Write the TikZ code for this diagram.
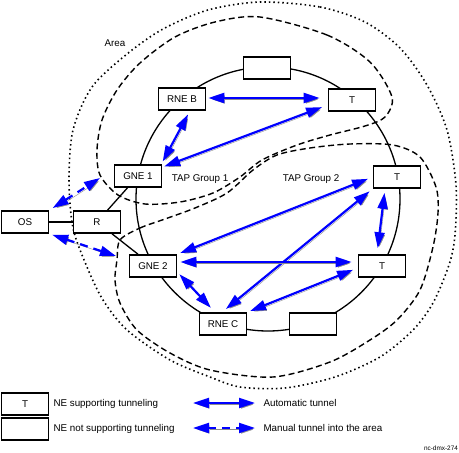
\documentclass[tikz,border=0pt]{standalone}
\usepackage{fontspec}
\setmainfont{Liberation Sans}
\usetikzlibrary{arrows.meta}
\tikzset{
  ne/.style={draw, line width=1.6pt, fill=white, minimum width=47pt, minimum height=22pt, inner sep=0pt},
  tunnel/.style={draw=blue, line width=2.2pt, {Triangle[length=16pt,width=10pt]}-{Triangle[length=16pt,width=10pt]},
    preaction={draw=black!45, transform canvas={shift={(1.3pt,-1.5pt)}}}},
  manual/.style={tunnel, dash pattern=on 8pt off 6pt},
  group/.style={line width=1.4pt, dash pattern=on 6pt off 3.5pt},
  area/.style={line width=1.6pt, dash pattern=on 1.5pt off 3pt}
}
\begin{document}
\begin{tikzpicture}[x=1pt, y=-1pt, font=\fontsize{9.8}{11}\selectfont]
                \useasboundingbox (0,0) rectangle (459,453);
                % area and TAP groups
                \draw[area] plot[smooth cycle] coordinates {(260,2) (320,7) (365,22) (400,48) (427,85) (447,130) (456,185) (455,235) (449,265) (433,303) (413,330) (380,357) (335,377) (285,388) (240,387) (210,377) (170,360) (127,330) (103,300) (87,267) (73,228) (69,180) (73,130) (92,87) (127,54) (163,29) (208,10)};
                \draw[group] plot[smooth cycle] coordinates {(260,17) (327,35) (370,62) (392,97) (385,117) (365,126) (330,135) (297,145) (262,160) (240,177) (213,193) (180,202) (145,204) (118,195) (100,175) (97,150) (102,120) (117,90) (140,63) (175,37) (215,22)};
                \draw[group] plot[smooth cycle] coordinates {(120,240) (140,228) (165,219) (195,208) (227,193) (253,170) (277,155) (310,148) (350,144) (393,145) (420,157) (436,187) (438,213) (433,247) (420,290) (397,320) (370,340) (330,362) (273,377) (210,370) (170,353) (137,330) (120,303) (115,280) (117,260)};
                \draw[line width=1.3pt] (268,199) circle[radius=132pt];
                % network elements
                \node[ne] (1) at (182,99) {RNE B};
                \node[ne] (2) at (267,68) {};
                \node[ne] (3) at (352,100) {T};
                \node[ne] (4) at (397,177) {T};
                \node[ne] (5) at (138,176) {GNE 1};
                \node[ne] (6) at (25,222) {OS};
                \node[ne] (7) at (97,222) {R};
                \node[ne] (8) at (153,266) {GNE 2};
                \node[ne] (9) at (382,266) {T};
                \node[ne] (10) at (223,324) {RNE C};
                \node[ne] (11) at (313,324) {};
                \draw[line width=1.3pt] (6) to (7);
                \draw[line width=1.3pt] (7) to (5);
                \draw[line width=1.3pt] (7) to (8);
                \node (12) at (115,43) {Area};
                \node (13) at (200,179) {TAP Group 1};
                \node (14) at (311,179) {TAP Group 2};
                % automatic tunnels
                \draw[tunnel, shorten <=2pt, shorten >=8pt] ([yshift=1pt]1.east) to ([yshift=2pt]3.west);
                \draw[tunnel, shorten <=4pt, shorten >=3pt] ([xshift=8pt]1.south) to ([xshift=-1pt]5.north east);
                \draw[tunnel, shorten <=2pt, shorten >=6pt] ([yshift=-3pt]5.north east) to ([yshift=-5pt]3.west);
                \draw[tunnel, shorten <=3pt, shorten >=5pt] (8.north east) to (4.west);
                \draw[tunnel, shorten <=5pt, shorten >=4pt] ([xshift=-1pt]10.north) to (4.south west);
                \draw[tunnel, shorten <=3pt, shorten >=6pt] ([yshift=4pt]8.east) to ([yshift=4pt]9.west);
                \draw[tunnel, shorten <=3pt, shorten >=6pt] ([yshift=-6pt]8.east) to ([xshift=-8pt]10.north);
                \draw[tunnel, shorten <=3pt, shorten >=5pt] (10.north east) to ([yshift=-2pt]9.west);
                \draw[tunnel, shorten <=4pt, shorten >=6pt] ([xshift=-12pt]4.south) to ([xshift=-5pt]9.north);
                % manual tunnels
                \coordinate (15) at (100,178);
                \coordinate (16) at (116,256);
                \draw[manual, shorten <=4pt] (6.north east) to (15);
                \draw[manual, shorten <=3pt] (6.south east) to (16);
                % legend
                \node[ne] (17) at (25,404) {T};
                \node[ne] (18) at (25,429) {};
                \node[anchor=west] (19) at (50,404) {NE supporting tunneling};
                \node[anchor=west] (20) at (50,429) {NE not supporting tunneling};
                \coordinate (21) at (193,403);
                \coordinate (22) at (255,403);
                \coordinate (23) at (193,428);
                \coordinate (24) at (255,428);
                \draw[tunnel] (21) to (22);
                \draw[manual] (23) to (24);
                \node[anchor=west] (25) at (260,403) {Automatic tunnel};
                \node[anchor=west] (26) at (260,428) {Manual tunnel into the area};
                \node[font=\fontsize{6.4}{7}\selectfont] (27) at (441,448) {nc-dmx-274};
    \end{tikzpicture}
\end{document}
